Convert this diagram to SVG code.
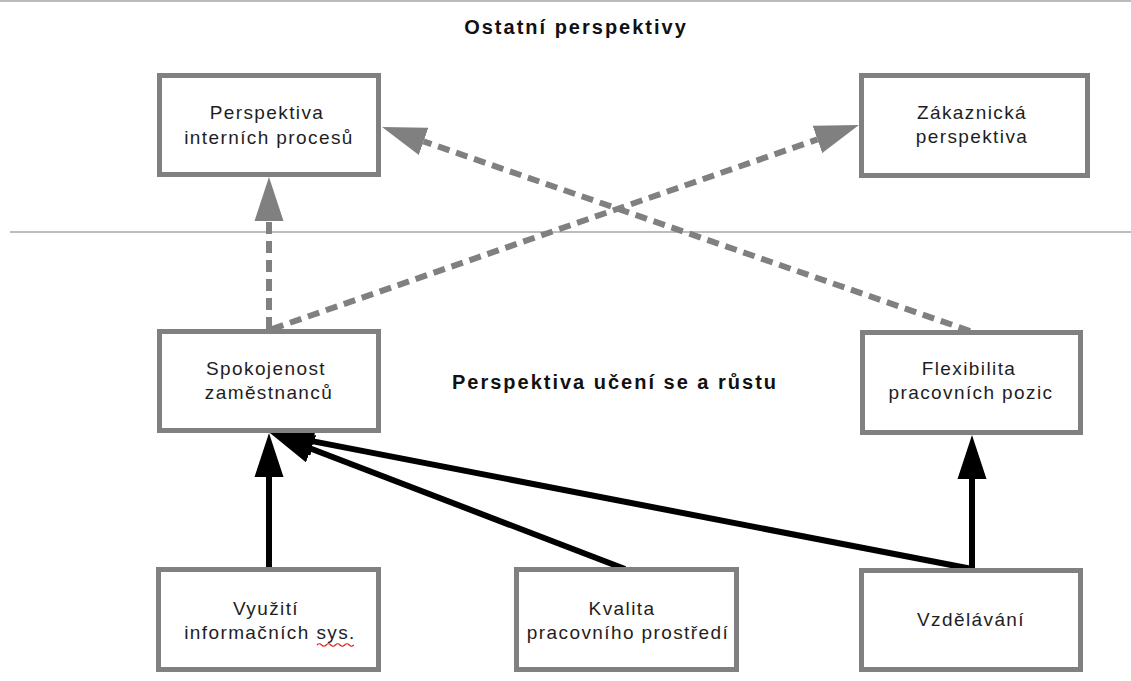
<svg xmlns="http://www.w3.org/2000/svg" width="1131" height="681" viewBox="0 0 1131 681">
  <style>
    .box { fill: #ffffff; stroke: #808080; stroke-width: 5; }
    .lbl { font-family: "Liberation Sans", Arial, sans-serif; font-size: 19px; letter-spacing: 1.4px; fill: #1e1e1e; text-anchor: middle; }
    .title { font-family: "Liberation Sans", Arial, sans-serif; font-size: 20px; font-weight: bold; letter-spacing: 2px; fill: #111111; text-anchor: middle; }
    .sep { stroke: #a6a6a6; stroke-width: 1.5; fill: none; }
    .dash { stroke: #808080; stroke-width: 6; stroke-dasharray: 12 7; fill: none; marker-end: url(#headGray); }
    .solid { stroke: #000000; stroke-width: 6; fill: none; marker-end: url(#headBlack); }
  </style>
  <defs>
    <!-- arrowheads start at the line end and extend 44px forward to the tip -->
    <marker id="headGray" markerUnits="userSpaceOnUse" markerWidth="46" markerHeight="30" viewBox="0 -15 46 30" refX="0" refY="0" orient="auto">
      <path d="M0,-14.5 L44,0 L0,14.5 Z" fill="#808080"/>
    </marker>
    <marker id="headBlack" markerUnits="userSpaceOnUse" markerWidth="46" markerHeight="30" viewBox="0 -15 46 30" refX="0" refY="0" orient="auto">
      <path d="M0,-14.5 L44,0 L0,14.5 Z" fill="#000000"/>
    </marker>
  </defs>

  <rect width="1131" height="681" fill="#ffffff"/>

  <!-- section separators -->
  <line class="sep" x1="0" y1="1" x2="1131" y2="1" stroke="#d0d0d0"/>
  <line class="sep" x1="10" y1="232" x2="1131" y2="232"/>

  <text class="title" x="576" y="34">Ostatní perspektivy</text>
  <text class="title" x="615" y="389">Perspektiva učení se a růstu</text>

  <g id="connectors">
    <!-- dashed links into the other perspectives -->
    <line class="dash" x1="269" y1="329" x2="269" y2="221"/>
    <line class="dash" x1="272" y1="329" x2="817.4" y2="139.4"/>
    <line class="dash" x1="970" y1="331" x2="423.6" y2="141.4"/>
    <!-- solid links inside learning & growth -->
    <line class="solid" x1="269" y1="569" x2="269" y2="477"/>
    <line class="solid" x1="625" y1="569" x2="311.1" y2="448.7"/>
    <line class="solid" x1="972" y1="569" x2="313.2" y2="441.4"/>
    <line class="solid" x1="972" y1="569" x2="972" y2="479"/>
  </g>

  <g id="node-interni-procesy">
    <rect class="box" x="159.5" y="75.5" width="219" height="99"/>
    <text class="lbl" x="267" y="119">Perspektiva</text>
    <text class="lbl" x="269" y="144">interních procesů</text>
  </g>

  <g id="node-zakaznicka">
    <rect class="box" x="861.5" y="75.5" width="226" height="100"/>
    <text class="lbl" x="972" y="119">Zákaznická</text>
    <text class="lbl" x="972" y="143">perspektiva</text>
  </g>

  <g id="node-spokojenost">
    <rect class="box" x="159.5" y="331.5" width="219" height="99"/>
    <text class="lbl" x="266" y="375">Spokojenost</text>
    <text class="lbl" x="269" y="399">zaměstnanců</text>
  </g>

  <g id="node-flexibilita">
    <rect class="box" x="862.5" y="332.5" width="218" height="100"/>
    <text class="lbl" x="969" y="375">Flexibilita</text>
    <text class="lbl" x="971" y="399">pracovních pozic</text>
  </g>

  <g id="node-vyuziti-is">
    <rect class="box" x="158.5" y="569.5" width="220" height="100"/>
    <text class="lbl" x="266" y="615">Využití</text>
    <text class="lbl" x="270" y="639">informačních sys.</text>
    <!-- spell-check squiggle under "sys" -->
    <path d="M317,645 q2.3,-2.5 4.6,0 t4.6,0 t4.6,0 t4.6,0 t4.6,0 t4.6,0 t4.6,0 t4.6,0" fill="none" stroke="#e02020" stroke-width="1.2"/>
  </g>

  <g id="node-kvalita">
    <rect class="box" x="516.5" y="569.5" width="220" height="100"/>
    <text class="lbl" x="622" y="615">Kvalita</text>
    <text class="lbl" x="628" y="639">pracovního prostředí</text>
  </g>

  <g id="node-vzdelavani">
    <rect class="box" x="861.5" y="570.5" width="219" height="99"/>
    <text class="lbl" x="971" y="626">Vzdělávání</text>
  </g>
</svg>
